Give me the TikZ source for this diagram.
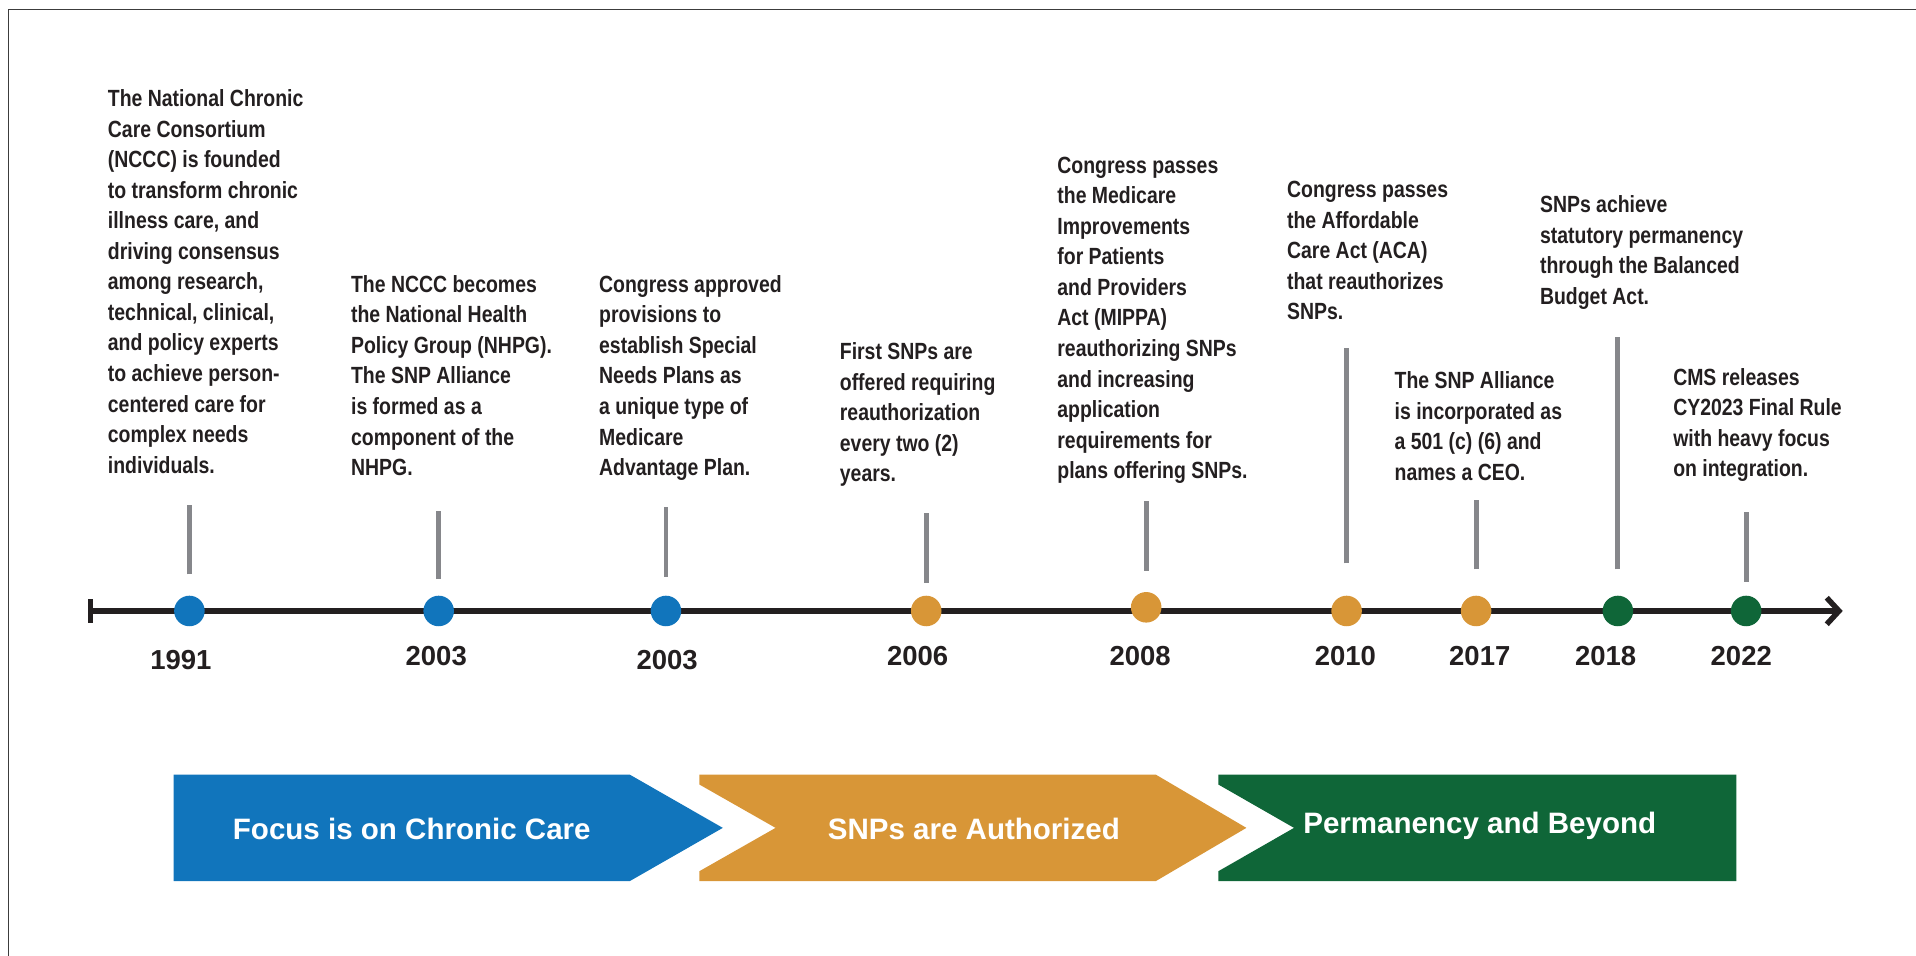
\documentclass[tikz,border=0pt]{standalone}
\usepackage{fontspec}
\setmainfont{Liberation Sans}
\newfontfamily\narrowfont[FakeStretch=0.83]{Liberation Sans}
\usetikzlibrary{arrows.meta}

\definecolor{snpblue}{HTML}{1175BC}
\definecolor{snporange}{HTML}{D89637}
\definecolor{snpgreen}{HTML}{0F6638}
\definecolor{tickgray}{HTML}{86878B}
\definecolor{ink}{HTML}{231F20}
\definecolor{frame}{HTML}{3C3C3C}

\begin{document}
\begin{tikzpicture}[x=0.6pt, y=-0.6pt,
  desc/.style={anchor=north west, inner sep=0pt, align=left, text=ink,
    font=\narrowfont\bfseries\fontsize{11.5}{15}\selectfont},
  year/.style={inner sep=0pt, text=ink, font=\bfseries\fontsize{13.5}{15}\selectfont},
  dot/.style={circle, minimum size=15pt, inner sep=0pt},
  tick/.style={draw=tickgray, line width=2.4pt},
  axis/.style={draw=ink, line width=2.7pt, {Bar[width=11.6pt]}-{Straight Barb[length=6pt,width=13pt]}},
  bandtext/.style={anchor=base, inner sep=0pt, text=white, font=\bfseries\fontsize{14.5}{18}\selectfont}]
\useasboundingbox (0,0) rectangle (1568,782);

% Frame
\draw[line width=0.6pt, frame] (7,782) -- (7,8) -- (1568,8);

% Axis
\coordinate (start) at (72,500);
\coordinate (end) at (1508,500);
\draw[axis] (start) -- (end);

% Dots
\node[dot, fill=snpblue] (d1991) at (155,500) {};
\node[dot, fill=snpblue] (d2003a) at (359,500) {};
\node[dot, fill=snpblue] (d2003b) at (545,500) {};
\node[dot, fill=snporange] (d2006) at (758,500) {};
\node[dot, fill=snporange] (d2008) at (938,497) {};
\node[dot, fill=snporange] (d2010) at (1102,500) {};
\node[dot, fill=snporange] (d2017) at (1208,500) {};
\node[dot, fill=snpgreen] (d2018) at (1324,500) {};
\node[dot, fill=snpgreen] (d2022) at (1429,500) {};

% Years
\node[year] (y1991) at (148,540) {1991};
\node[year] (y2003a) at (357,537) {2003};
\node[year] (y2003b) at (546,540) {2003};
\node[year] (y2006) at (751,537) {2006};
\node[year] (y2008) at (933,537) {2008};
\node[year] (y2010) at (1101,537) {2010};
\node[year] (y2017) at (1211,537) {2017};
\node[year] (y2018) at (1314,537) {2018};
\node[year] (y2022) at (1425,537) {2022};

% Ticks
\draw[tick] (d1991) ++(0,-30) -- ++(0,-57);
\draw[tick] (d2003a) ++(0,-26) -- ++(0,-56);
\draw[tick] (d2003b) ++(0,-28) -- ++(0,-57);
\draw[tick] (d2006) ++(0,-23) -- ++(0,-57);
\draw[tick] (d2008) ++(0,-30) -- ++(0,-57);
\draw[tick] (d2010) ++(0,-39) -- ++(0,-176);
\draw[tick] (d2017) ++(0,-34) -- ++(0,-57);
\draw[tick] (d2018) ++(0,-34) -- ++(0,-190);
\draw[tick] (d2022) ++(0,-24) -- ++(0,-57);

% Events
\node[desc] (n1991) at (88,73) {The National Chronic\\Care Consortium\\(NCCC) is founded\\to transform chronic\\illness care, and\\driving consensus\\among research,\\technical, clinical,\\and policy experts\\to achieve person-\\centered care for\\complex needs\\individuals.};
\node[desc] (n2003a) at (287,225) {The NCCC becomes\\the National Health\\Policy Group (NHPG).\\The SNP Alliance\\is formed as a\\component of the\\NHPG.};
\node[desc] (n2003b) at (490,225) {Congress approved\\provisions to\\establish Special\\Needs Plans as\\a unique type of\\Medicare\\Advantage Plan.};
\node[desc] (n2006) at (687,280) {First SNPs are\\offered requiring\\reauthorization\\every two (2)\\years.};
\node[desc] (n2008) at (865,128) {Congress passes\\the Medicare\\Improvements\\for Patients\\and Providers\\Act (MIPPA)\\reauthorizing SNPs\\and increasing\\application\\requirements for\\plans offering SNPs.};
\node[desc] (n2010) at (1053,148) {Congress passes\\the Affordable\\Care Act (ACA)\\that reauthorizes\\SNPs.};
\node[desc] (n2017) at (1141,304) {The SNP Alliance\\is incorporated as\\a 501 (c) (6) and\\names a CEO.};
\node[desc] (n2018) at (1260,160) {SNPs achieve\\statutory permanency\\through the Balanced\\Budget Act.};
\node[desc] (n2022) at (1369,301) {CMS releases\\CY2023 Final Rule\\with heavy focus\\on integration.};

% Phases
\fill[snpblue] (142,634) -- (515.5,634) -- (591.5,677.5) -- (515.5,721) -- (142,721) -- cycle;
\fill[snporange] (572.3,634) -- (946,634) -- (1020,677.5) -- (946,721) -- (572.3,721) -- (572.3,713) -- (634.7,677.5) -- (572.3,642) -- cycle;
\fill[snpgreen] (997,634) -- (1421,634) -- (1421,721) -- (997,721) -- (997,713) -- (1059,677.5) -- (997,642) -- cycle;

\node[bandtext] (focus) at (337,687) {Focus is on Chronic Care};
\node[bandtext] (authorized) at (797,687) {SNPs are Authorized};
\node[bandtext] (beyond) at (1211,682) {Permanency and Beyond};
\end{tikzpicture}
\end{document}
